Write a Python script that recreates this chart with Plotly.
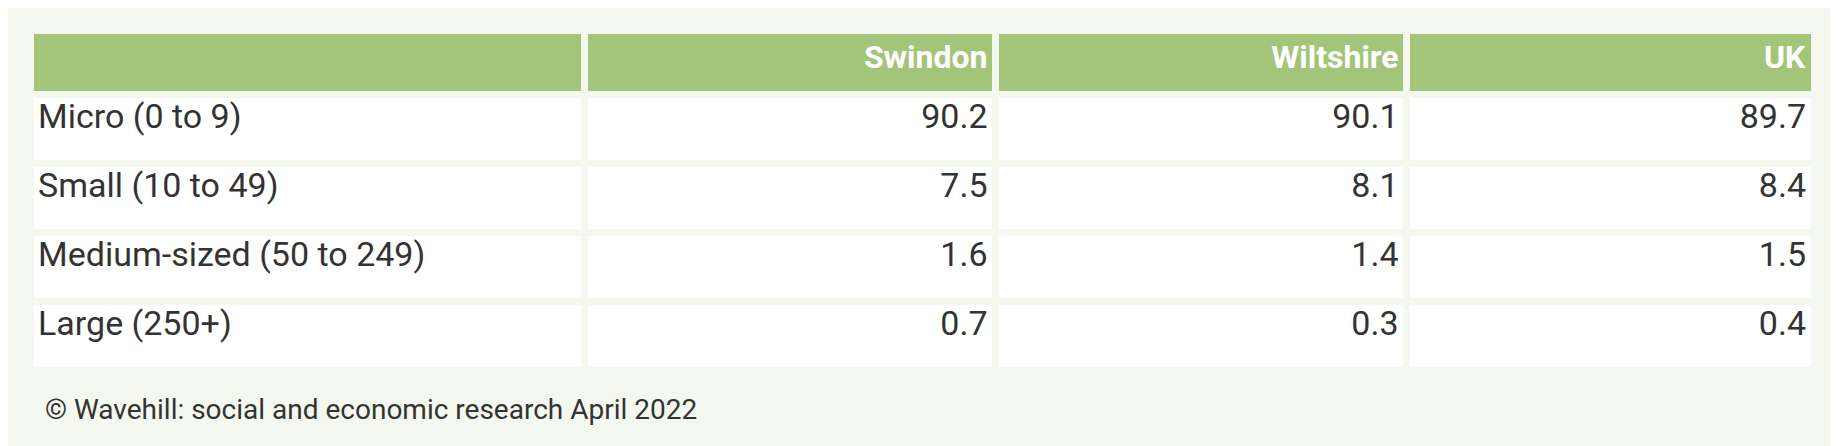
import plotly.graph_objects as go

columns = ["", "Swindon", "Wiltshire", "UK"]
sizes = ["Micro (0 to 9)", "Small (10 to 49)", "Medium-sized (50 to 249)", "Large (250+)"]
swindon = ["90.2", "7.5", "1.6", "0.7"]
wiltshire = ["90.1", "8.1", "1.4", "0.3"]
uk = ["89.7", "8.4", "1.5", "0.4"]
source = "© Wavehill: social and economic research April 2022"

bg = "#f5f8ee"
green = "#a3c57a"

fig = go.Figure(go.Table(
    columnwidth=[468, 347, 347, 344],
    domain=dict(x=[0.012, 0.983], y=[0.1, 0.95]),
    header=dict(
        values=["<b>%s</b>" % c for c in columns],
        fill_color=green,
        line=dict(color=bg, width=7),
        align=["left", "right", "right", "right"],
        font=dict(family="Roboto", size=32, color="white"),
        height=64,
    ),
    cells=dict(
        values=[sizes, swindon, wiltshire, uk],
        fill_color="white",
        line=dict(color=bg, width=7),
        align=["left", "right", "right", "right"],
        font=dict(family="Roboto", size=34, color="#333333"),
        height=69,
    ),
))

fig.add_annotation(text=source, x=0.019, y=0.1, xref="paper", yref="paper",
                   xanchor="left", yanchor="middle", showarrow=False,
                   font=dict(family="Roboto", size=28, color="#333333"))

fig.update_layout(width=1838, height=446, paper_bgcolor=bg, plot_bgcolor=bg,
                  margin=dict(l=0, r=0, t=0, b=0))
fig.write_html("out.html")
